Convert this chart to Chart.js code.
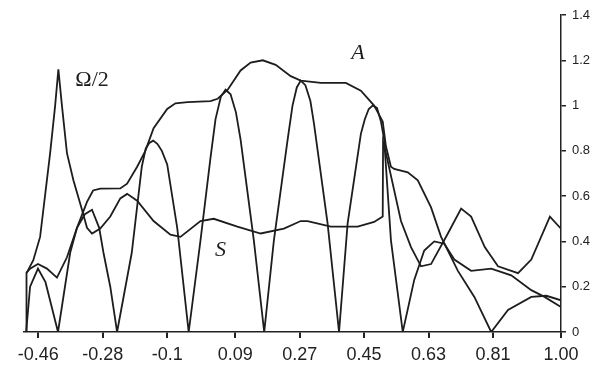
<!DOCTYPE html>
<html>
<head>
<meta charset="utf-8">
<script src="https://cdn.jsdelivr.net/npm/chart.js@4"></script>
<style>
  body { margin: 0; background: #fff; }
  canvas { display: block; }
</style>
</head>
<body>
<canvas id="chart" width="603" height="372"></canvas>
<script>
// x axis ticks
const xTicks = [-0.46, -0.28, -0.1, 0.09, 0.27, 0.45, 0.63, 0.81, 1.0];
const xTickLabels = ['-0.46', '-0.28', '-0.1', '0.09', '0.27', '0.45', '0.63', '0.81', '1.00'];
// y axis ticks
const yTicks = [0, 0.2, 0.4, 0.6, 0.8, 1, 1.2, 1.4];
const yTickLabels = ['0', '0.2', '0.4', '0.6', '0.8', '1', '1.2', '1.4'];

// Omega/2 curve (oscillating one)
const omegaX = [-0.494, -0.483, -0.461, -0.44, -0.405, -0.371, -0.352, -0.33, -0.31, -0.29, -0.278, -0.259, -0.24,
  -0.199, -0.171, -0.16, -0.15, -0.139, -0.127, -0.115, -0.1, -0.072, -0.04,
  -0.007, 0.021, 0.035, 0.05, 0.063, 0.077, 0.092, 0.105, 0.142, 0.171,
  0.198, 0.236, 0.25, 0.262, 0.273, 0.286, 0.3, 0.31, 0.348, 0.38,
  0.404, 0.441, 0.452, 0.463, 0.474, 0.486, 0.497, 0.506, 0.525, 0.558,
  0.59, 0.618, 0.646, 0.674, 0.702, 0.749, 0.805, 0.861, 0.917, 0.954, 1.0];
const omegaY = [0, 0.2, 0.28, 0.22, 0, 0.35, 0.46, 0.52, 0.54, 0.46, 0.35, 0.2, 0,
  0.35, 0.73, 0.81, 0.835, 0.845, 0.83, 0.8, 0.74, 0.46, 0,
  0.405, 0.77, 0.94, 1.04, 1.07, 1.05, 0.97, 0.85, 0.405, 0,
  0.405, 0.845, 1.0, 1.08, 1.11, 1.09, 1.02, 0.92, 0.48, 0,
  0.48, 0.875, 0.94, 0.985, 1.0, 0.99, 0.93, 0.85, 0.405, 0,
  0.23, 0.36, 0.40, 0.39, 0.32, 0.27, 0.28, 0.25, 0.185, 0.155, 0.11];

// A curve (envelope)
const ampX = [-0.494, -0.483, -0.461, -0.436, -0.408, -0.38, -0.352, -0.324, -0.307, -0.287, -0.231, -0.212, -0.184,
  -0.161, -0.138, -0.1, -0.077, -0.043, 0.021, 0.041, 0.069, 0.105, 0.133, 0.167, 0.203, 0.245, 0.273, 0.329, 0.399,
  0.441, 0.478, 0.502, 0.511, 0.525, 0.534, 0.572, 0.6, 0.637, 0.665, 0.712, 0.758, 0.805, 0.852, 0.917, 0.959, 1.0];
const ampY = [0.26, 0.28, 0.30, 0.28, 0.24, 0.33, 0.46, 0.575, 0.625, 0.633, 0.634, 0.655, 0.73,
  0.80, 0.90, 0.985, 1.01, 1.015, 1.02, 1.03, 1.07, 1.155, 1.19, 1.20, 1.18, 1.13, 1.11, 1.10, 1.10,
  1.066, 1.0, 0.93, 0.82, 0.73, 0.72, 0.705, 0.67, 0.55, 0.42, 0.27, 0.155, 0, 0.097, 0.155, 0.16, 0.14];

// S curve
const sX = [-0.494, -0.493, -0.474, -0.455, -0.427, -0.413, -0.404, -0.394, -0.38, -0.362, -0.338, -0.324, -0.31,
  -0.287, -0.259, -0.231, -0.212, -0.184, -0.138, -0.091, -0.063, -0.007, 0.03, 0.096, 0.161, 0.226, 0.273, 0.292,
  0.357, 0.432, 0.478, 0.502, 0.503, 0.511, 0.553, 0.581, 0.609, 0.637, 0.684, 0.721, 0.749, 0.787, 0.824, 0.88,
  0.917, 0.969, 1.0];
const sY = [0, 0.26, 0.317, 0.42, 0.79, 1.0, 1.16, 1.0, 0.79, 0.67, 0.54, 0.46, 0.435,
  0.457, 0.51, 0.59, 0.61, 0.58, 0.49, 0.43, 0.42, 0.49, 0.50, 0.465, 0.435, 0.457, 0.49, 0.49,
  0.465, 0.465, 0.486, 0.51, 0.84, 0.79, 0.49, 0.375, 0.29, 0.30, 0.435, 0.545, 0.51, 0.375, 0.29, 0.26,
  0.32, 0.51, 0.456];

// curve names written on the plot
const curveLabels = [
  { text: '\u03A9/2', x: -0.31, y: 1.11, italic: false },
  { text: 'A', x: 0.433, y: 1.233, italic: true },
  { text: 'S', x: 0.049, y: 0.361, italic: true }
];

function toPoints(xs, ys) {
  return xs.map((x, i) => ({ x: x, y: ys[i] }));
}

const lineColor = '#1d1d1d';

function lineSet(label, xs, ys) {
  return {
    label: label,
    data: toPoints(xs, ys),
    borderColor: lineColor,
    borderWidth: 1.8,
    pointRadius: 0,
    tension: 0,
    fill: false
  };
}

const curveLabelPlugin = {
  id: 'curveLabels',
  afterDatasetsDraw(chart) {
    const ctx = chart.ctx;
    const xs = chart.scales.x, ys = chart.scales.y;
    ctx.save();
    ctx.fillStyle = '#1d1d1d';
    ctx.textAlign = 'center';
    ctx.textBaseline = 'middle';
    curveLabels.forEach(l => {
      ctx.font = (l.italic ? 'italic ' : '') + '22px "Liberation Serif", "Times New Roman", serif';
      ctx.fillText(l.text, xs.getPixelForValue(l.x), ys.getPixelForValue(l.y));
    });
    ctx.restore();
  }
};

const ctx = document.getElementById('chart').getContext('2d');
new Chart(ctx, {
  type: 'line',
  data: {
    datasets: [
      lineSet('\u03A9/2', omegaX, omegaY),
      lineSet('A', ampX, ampY),
      lineSet('S', sX, sY)
    ]
  },
  options: {
    responsive: false,
    animation: false,
    layout: { padding: { left: 24, top: 15, right: 0, bottom: 0 } },
    plugins: {
      legend: { display: false },
      tooltip: { enabled: false }
    },
    scales: {
      x: {
        type: 'linear',
        position: 'bottom',
        min: -0.5,
        max: 1.0,
        afterBuildTicks: axis => { axis.ticks = xTicks.map(v => ({ value: v })); },
        afterFit: axis => { axis.height = 40; },
        grid: { drawOnChartArea: false, drawTicks: true, tickLength: 6, color: '#222', lineWidth: 2 },
        border: { display: true, color: '#222', width: 1.5 },
        ticks: {
          autoSkip: false,
          maxRotation: 0,
          padding: 6,
          color: '#222',
          font: { family: '"Liberation Sans", Arial, sans-serif', size: 18 },
          callback: (v, i) => xTickLabels[i]
        }
      },
      y: {
        type: 'linear',
        position: 'right',
        min: 0,
        max: 1.4,
        afterBuildTicks: axis => { axis.ticks = yTicks.map(v => ({ value: v })); },
        afterFit: axis => { axis.width = 42; },
        grid: { drawOnChartArea: false, drawTicks: true, tickLength: 5, color: '#222', lineWidth: 1.5 },
        border: { display: true, color: '#222', width: 1.5 },
        ticks: {
          padding: 6,
          color: '#222',
          font: { family: '"Liberation Sans", Arial, sans-serif', size: 13 },
          callback: (v, i) => yTickLabels[i]
        }
      }
    }
  },
  plugins: [curveLabelPlugin]
});
</script>
</body>
</html>
